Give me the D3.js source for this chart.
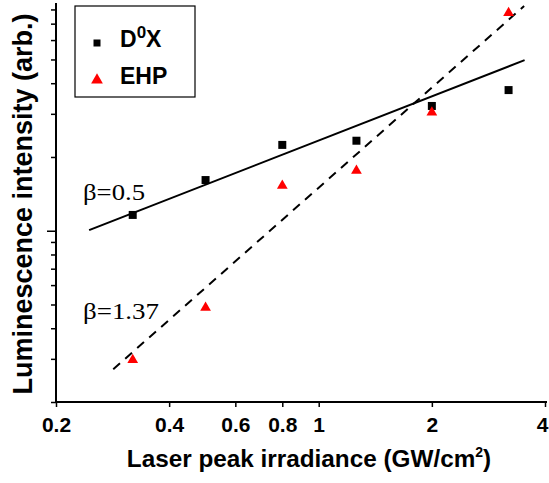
<!DOCTYPE html>
<html><head><meta charset="utf-8">
<script src="https://cdn.jsdelivr.net/npm/d3@7"></script>
<style>body{margin:0;background:#fff}svg{display:block}</style>
</head><body>
<script>
const irradiance = [0.32, 0.5, 0.8, 1.26, 2.0, 3.2];
const d0xValues = [1.16, 1.61, 2.24, 2.33, 3.23, 3.75];
const ehpValues = [0.297, 0.485, 1.526, 1.757, 3.04, 7.75];
const solidFitX = [0.245, 3.53];
const solidFitY = [1.006, 4.97];
const dashedFitX = [0.284, 3.52];
const dashedFitY = [0.272, 8.26];
const xTickValues = [0.2, 0.4, 0.6, 0.8, 1, 2, 4];
const xTickLabels = ["0.2", "0.4", "0.6", "0.8", "1", "2", "4"];
const yMinorTicks = [0.2,0.3,0.4,0.5,0.6,0.7,0.8,0.9,2,3,4,5,6,7,8];
const yMajorTicks = [1];

const W = 549, H = 483;
const svg = d3.select("body").append("svg").attr("width", W).attr("height", H);
const x = d3.scaleLog().domain([0.2, 4]).range([56, 545]);
const y = d3.scaleLog().domain([0.2, 8.5]).range([402, 3]);

// axes
const xAxis = d3.axisBottom(x).tickValues(xTickValues).tickFormat((d,i)=>xTickLabels[i]).tickSize(5).tickSizeOuter(0);
const gx = svg.append("g").attr("transform", "translate(0,402)").call(xAxis);
gx.select(".domain").attr("stroke", "#000").attr("stroke-width", 2).attr("d", "M55,0H547");
gx.selectAll(".tick line").attr("stroke-width", 1.5);
gx.selectAll(".tick text").attr("font-family", "Liberation Sans, Arial, sans-serif").attr("font-weight", "bold").attr("font-size", 21).attr("fill", "#000").attr("dy", null).attr("y", 30)
  .attr("dx", d => d === 4 ? -3 : null);

const gy = svg.append("g").attr("transform", "translate(56,0)");
gy.call(d3.axisLeft(y).tickValues(yMinorTicks).tickFormat("").tickSize(5).tickSizeOuter(0));
gy.append("g").call(d3.axisLeft(y).tickValues(yMajorTicks).tickFormat("").tickSize(9).tickSizeOuter(0)).select(".domain").remove();
gy.select(".domain").attr("stroke", "#000").attr("stroke-width", 2).attr("d", "M0,403V3");
gy.selectAll(".tick line").attr("stroke-width", 1.5);

// fit lines
const line = d3.line().x(d=>x(d[0])).y(d=>y(d[1]));
svg.append("path").datum(d3.zip(solidFitX, solidFitY)).attr("d", line)
  .attr("stroke", "#000").attr("stroke-width", 2).attr("fill", "none");
svg.append("path").datum(d3.zip(dashedFitX, dashedFitY)).attr("d", line)
  .attr("stroke", "#000").attr("stroke-width", 2).attr("fill", "none").attr("stroke-dasharray", "9,7");

// markers
const sq = d3.symbol().type(d3.symbolSquare).size(64);
const tri = d3.symbol().type(d3.symbolTriangle).size(50);
svg.append("g").selectAll("path").data(d3.zip(irradiance, d0xValues)).join("path")
  .attr("d", sq).attr("transform", d=>`translate(${x(d[0])},${y(d[1])})`).attr("fill", "#000");
svg.append("g").selectAll("path").data(d3.zip(irradiance, ehpValues)).join("path")
  .attr("d", tri).attr("transform", d=>`translate(${x(d[0])},${y(d[1])})`).attr("fill", "#ff0000");

// beta labels
svg.append("text").attr("x", 83).attr("y", 200).attr("font-family", "Liberation Serif, Times New Roman, serif")
  .attr("font-size", 24).attr("textLength", 62).attr("lengthAdjust", "spacingAndGlyphs").text("β=0.5");
svg.append("text").attr("x", 83).attr("y", 319).attr("font-family", "Liberation Serif, Times New Roman, serif")
  .attr("font-size", 24).attr("textLength", 76).attr("lengthAdjust", "spacingAndGlyphs").text("β=1.37");

// legend
svg.append("rect").attr("x", 75).attr("y", 6).attr("width", 120).attr("height", 91)
  .attr("fill", "#fff").attr("stroke", "#000").attr("stroke-width", 1.2);
svg.append("path").attr("d", sq.size(49)()).attr("transform", "translate(97,43)").attr("fill", "#000");
svg.append("path").attr("d", tri.size(60)()).attr("transform", "translate(97,80)").attr("fill", "#ff0000");
const lt1 = svg.append("text").attr("x", 120).attr("y", 47).attr("font-family", "Liberation Sans, Arial, sans-serif")
  .attr("font-weight", "bold").attr("font-size", 23);
lt1.append("tspan").text("D");
lt1.append("tspan").attr("dy", -9).attr("font-size", 17).text("0");
lt1.append("tspan").attr("dy", 9).text("X");
svg.append("text").attr("x", 120).attr("y", 84).attr("font-family", "Liberation Sans, Arial, sans-serif")
  .attr("font-weight", "bold").attr("font-size", 23).text("EHP");

// axis titles
const xt = svg.append("text").attr("x", 309).attr("y", 467).attr("text-anchor", "middle")
  .attr("font-family", "Liberation Sans, Arial, sans-serif").attr("font-weight", "bold").attr("font-size", 24.3);
xt.append("tspan").text("Laser peak irradiance (GW/cm");
xt.append("tspan").attr("dy", -10).attr("font-size", 14).text("2");
xt.append("tspan").attr("dy", 10).text(")");

svg.append("text").attr("transform", "translate(32,204) rotate(-90)").attr("text-anchor", "middle")
  .attr("font-family", "Liberation Sans, Arial, sans-serif").attr("font-weight", "bold").attr("font-size", 27)
  .text("Luminescence intensity (arb.)");
</script>
</body></html>
